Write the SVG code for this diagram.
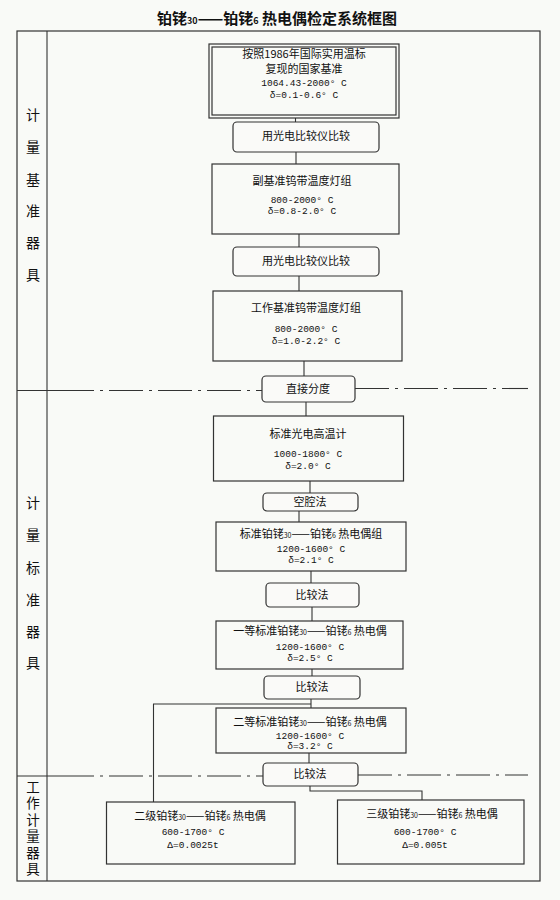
<svg xmlns="http://www.w3.org/2000/svg" width="560" height="900" viewBox="0 0 560 900">
<style>
.bx{fill:none;stroke:#333;stroke-width:1.2}
.rb{fill:#fafaf8;stroke:#333;stroke-width:1.2}
.ln{fill:none;stroke:#333;stroke-width:1.1}
.dd{fill:none;stroke:#333;stroke-width:1.1;stroke-dasharray:34 6 3 6}
.cn{font-family:"Noto Sans CJK SC","Noto Sans",sans-serif;font-size:11px;fill:#111;text-anchor:middle}
.nm{font-family:"Liberation Mono",monospace;font-size:9.5px;fill:#111;text-anchor:middle}
.sub{font-size:7px}
.sec{font-family:"Noto Sans CJK SC",sans-serif;font-size:14px;fill:#111;text-anchor:middle}
.ttl{font-family:"Noto Sans CJK SC",sans-serif;font-size:15px;font-weight:bold;fill:#111;text-anchor:middle}
</style>
<rect x="0" y="0" width="560" height="900" fill="#f9faf7"/>
<text class="ttl" x="277" y="24">铂铑<tspan font-size="9px">30</tspan>——铂铑<tspan font-size="9px">6</tspan> 热电偶检定系统框图</text>
<g id="frame">
<rect x="17" y="31" width="523" height="850" class="bx"/>
<line x1="47" y1="31" x2="47" y2="881" class="ln"/>
<line x1="17" y1="390.5" x2="60" y2="390.5" class="ln"/>
<line x1="60" y1="390.5" x2="262" y2="390.5" class="dd"/>
<line x1="355" y1="388.5" x2="528" y2="388.5" class="dd"/>
<line x1="17" y1="776" x2="60" y2="776" class="ln"/>
<line x1="60" y1="776" x2="263" y2="776" class="dd"/>
<line x1="358" y1="775" x2="528" y2="775" class="dd"/>
</g>
<g id="sections">
<text class="sec" x="33" y="120">计</text>
<text class="sec" x="33" y="152">量</text>
<text class="sec" x="33" y="185">基</text>
<text class="sec" x="33" y="216">准</text>
<text class="sec" x="33" y="248">器</text>
<text class="sec" x="33" y="280">具</text>
<text class="sec" x="33" y="508">计</text>
<text class="sec" x="33" y="540">量</text>
<text class="sec" x="33" y="573">标</text>
<text class="sec" x="33" y="605">准</text>
<text class="sec" x="33" y="637">器</text>
<text class="sec" x="33" y="668">具</text>
<text x="33" y="780" writing-mode="vertical-rl" style="font-family:'Noto Sans CJK SC',sans-serif;font-size:13.5px;fill:#111;letter-spacing:3px">工作计量器具</text>
</g>
<g id="connectors">
<line x1="295.5" y1="118" x2="295.5" y2="122" class="ln"/>
<line x1="296" y1="152" x2="296" y2="164" class="ln"/>
<line x1="299" y1="234" x2="299" y2="247" class="ln"/>
<line x1="299" y1="276" x2="299" y2="291" class="ln"/>
<line x1="304" y1="361" x2="304" y2="376" class="ln"/>
<line x1="306" y1="402" x2="306" y2="416" class="ln"/>
<line x1="310" y1="481" x2="310" y2="493" class="ln"/>
<line x1="299" y1="511" x2="299" y2="522" class="ln"/>
<line x1="311" y1="571" x2="311" y2="583" class="ln"/>
<line x1="312" y1="607" x2="312" y2="621" class="ln"/>
<line x1="312" y1="669" x2="312" y2="676" class="ln"/>
<line x1="311" y1="699" x2="311" y2="708" class="ln"/>
<polyline points="311,704 153.5,704 153.5,802" class="ln"/>
<line x1="309" y1="753" x2="309" y2="763" class="ln"/>
<polyline points="310,786 310,791 422,791 422,800" class="ln"/>
</g>
<g id="n1">
<rect x="209" y="44" width="190" height="74" class="bx"/>
<rect x="212" y="47" width="184" height="68" class="bx"/>
<text class="cn" x="304" y="58" font-size="10px">按照1986年国际实用温标</text>
<text class="cn" x="304" y="73" font-size="10px">复现的国家基准</text>
<text class="nm" x="304" y="86">1064.43-2000° C</text>
<text class="nm" x="304" y="98">δ=0.1-0.6° C</text>
</g>
<g id="n2">
<rect x="233" y="122" width="146" height="30" rx="4" class="rb"/>
<text class="cn" x="306" y="140">用光电比较仪比较</text>
</g>
<g id="n3">
<rect x="212" y="164" width="187" height="70" class="bx"/>
<text class="cn" x="302" y="185">副基准钨带温度灯组</text>
<text class="nm" x="302" y="203">800-2000° C</text>
<text class="nm" x="302" y="214">δ=0.8-2.0° C</text>
</g>
<g id="n4">
<rect x="233" y="247" width="146" height="29" rx="4" class="rb"/>
<text class="cn" x="306" y="265">用光电比较仪比较</text>
</g>
<g id="n5">
<rect x="213" y="291" width="189" height="70" class="bx"/>
<text class="cn" x="306" y="312">工作基准钨带温度灯组</text>
<text class="nm" x="306" y="332">800-2000° C</text>
<text class="nm" x="306" y="344">δ=1.0-2.2° C</text>
</g>
<g id="n6">
<rect x="262" y="376" width="93" height="26" rx="4" class="rb"/>
<text class="cn" x="308" y="393">直接分度</text>
</g>
<g id="n7">
<rect x="213.5" y="416" width="190" height="65" class="bx"/>
<text class="cn" x="308" y="438">标准光电高温计</text>
<text class="nm" x="308" y="457">1000-1800° C</text>
<text class="nm" x="308" y="469">δ=2.0° C</text>
</g>
<g id="n8">
<rect x="263" y="493" width="95" height="18" rx="4" class="rb"/>
<text class="cn" x="310" y="506">空腔法</text>
</g>
<g id="n9">
<rect x="216" y="522" width="190" height="49" class="bx"/>
<text class="cn" x="311" y="538">标准铂铑<tspan class="sub">30</tspan>——铂铑<tspan class="sub">6</tspan> 热电偶组</text>
<text class="nm" x="311" y="552">1200-1600° C</text>
<text class="nm" x="311" y="563">δ=2.1° C</text>
</g>
<g id="n10">
<rect x="266" y="583" width="93" height="24" rx="4" class="rb"/>
<text class="cn" x="312" y="599">比较法</text>
</g>
<g id="n11">
<rect x="216" y="621" width="187" height="48" class="bx"/>
<text class="cn" x="310" y="635">一等标准铂铑<tspan class="sub">30</tspan>——铂铑<tspan class="sub">6</tspan> 热电偶</text>
<text class="nm" x="310" y="650">1200-1600° C</text>
<text class="nm" x="310" y="661">δ=2.5° C</text>
</g>
<g id="n12">
<rect x="264" y="676" width="96" height="23" rx="4" class="rb"/>
<text class="cn" x="312" y="691">比较法</text>
</g>
<g id="n13">
<rect x="216" y="708" width="190" height="45" class="bx"/>
<text class="cn" x="310" y="726">二等标准铂铑<tspan class="sub">30</tspan>——铂铑<tspan class="sub">6</tspan> 热电偶</text>
<text class="nm" x="310" y="739">1200-1600° C</text>
<text class="nm" x="310" y="749">δ=3.2° C</text>
</g>
<g id="n14">
<rect x="263" y="763" width="95" height="23" rx="4" class="rb"/>
<text class="cn" x="310" y="778">比较法</text>
</g>
<g id="n15">
<rect x="106.5" y="802" width="188.5" height="62" class="bx"/>
<text class="cn" x="200" y="820">二级铂铑<tspan class="sub">30</tspan>——铂铑<tspan class="sub">6</tspan> 热电偶</text>
<text class="nm" x="193" y="835">600-1700° C</text>
<text class="nm" x="193" y="848">Δ=0.0025t</text>
</g>
<g id="n16">
<rect x="337.5" y="800" width="186.5" height="64" class="bx"/>
<text class="cn" x="432" y="818">三级铂铑<tspan class="sub">30</tspan>——铂铑<tspan class="sub">6</tspan> 热电偶</text>
<text class="nm" x="425" y="835">600-1700° C</text>
<text class="nm" x="425" y="848">Δ=0.005t</text>
</g>
</svg>
